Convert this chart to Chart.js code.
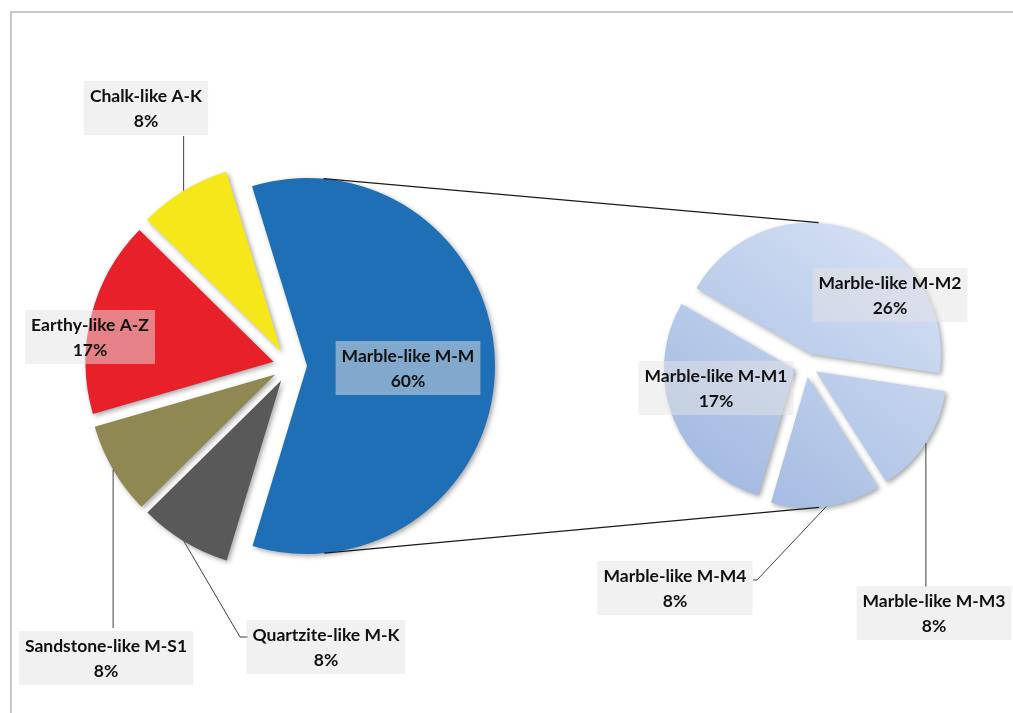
<!DOCTYPE html>
<html>
<head>
<meta charset="utf-8">
<script src="https://cdn.jsdelivr.net/npm/chart.js@4.4.1/dist/chart.umd.min.js"></script>
<style>
  body { margin: 0; background: #fff; }
  #wrap { position: relative; width: 1013px; height: 713px; overflow: hidden; }
  #frame { position: absolute; left: 10px; top: 11px; width: 1100px; height: 800px;
           border-left: 2px solid #c8c8c8; border-top: 2px solid #c8c8c8; }
  canvas { position: absolute; left: 0; top: 0; }
</style>
</head>
<body>
<div id="wrap">
  <div id="frame"></div>
  <canvas id="mainPie" width="1013" height="713"></canvas>
  <canvas id="subPie" width="1013" height="713"></canvas>
</div>
<script>
// data
var mainLabels = ['Marble-like M-M', 'Quartzite-like M-K', 'Sandstone-like M-S1', 'Earthy-like A-Z', 'Chalk-like A-K'];
var mainValues = [60, 8, 8, 17, 8];
var subLabels = ['Marble-like M-M2', 'Marble-like M-M3', 'Marble-like M-M4', 'Marble-like M-M1'];
var subValues = [26, 8, 8, 17];

// styles
var mainColors = ['#1f6fb7', '#595959', '#8f8852', '#e8202a', '#f5e71a'];

// where the callout boxes sit (box centre), and optional leader ends
var mainLabelPos = [
  {x: 408, y: 368},
  {x: 326, y: 647, via: [240, 637], to: [248, 637]},
  {x: 106, y: 658, to: [null, 628]},
  {x: 90, y: 337},
  {x: 146, y: 108, to: [null, 136]}
];
var subLabelPos = [
  {x: 890, y: 295},
  {x: 934, y: 613, to: [null, 587]},
  {x: 675, y: 588, via: [757, 580], to: [753, 580]},
  {x: 716, y: 388}
];

// push every slice outward along its middle angle
var explodePlugin = {
  id: 'explode',
  afterDatasetsUpdate: function (chart, args, opts) {
    chart.getDatasetMeta(0).data.forEach(function (arc) {
      var mid = (arc.startAngle + arc.endAngle) / 2;
      arc.x += Math.cos(mid) * opts.distance;
      arc.y += Math.sin(mid) * opts.distance;
    });
  }
};

var shadowPlugin = {
  id: 'sliceShadow',
  beforeDatasetDraw: function (chart) {
    var ctx = chart.ctx;
    ctx.save();
    ctx.shadowColor = 'rgba(0,0,0,0.35)';
    ctx.shadowBlur = 5;
    ctx.shadowOffsetX = 2;
    ctx.shadowOffsetY = 2;
  },
  afterDatasetDraw: function (chart) {
    chart.ctx.restore();
  }
};

var calloutPlugin = {
  id: 'callouts',
  afterDatasetsDraw: function (chart, args, opts) {
    var ctx = chart.ctx;
    var arcs = chart.getDatasetMeta(0).data;
    var values = chart.data.datasets[0].data;
    ctx.save();
    ctx.font = 'bold 17.5px Lato, sans-serif';
    arcs.forEach(function (arc, i) {
      var p = opts.pos[i];
      if (p.to) {
        var mid = (arc.startAngle + arc.endAngle) / 2;
        var sx = arc.x + Math.cos(mid) * arc.outerRadius;
        var sy = arc.y + Math.sin(mid) * arc.outerRadius;
        ctx.beginPath();
        ctx.moveTo(sx, sy);
        if (p.via) ctx.lineTo(p.via[0], p.via[1]);
        ctx.lineTo(p.to[0] === null ? sx : p.to[0], p.to[1]);
        ctx.strokeStyle = '#404040';
        ctx.lineWidth = 1;
        ctx.stroke();
      }
      var line1 = chart.data.labels[i];
      var line2 = values[i] + '%';
      var w = Math.max(ctx.measureText(line1).width, ctx.measureText(line2).width) + 12;
      var h = 54;
      ctx.fillStyle = 'rgba(228,228,228,0.5)';
      ctx.fillRect(p.x - w / 2, p.y - h / 2, w, h);
      ctx.fillStyle = '#111';
      ctx.textAlign = 'center';
      ctx.textBaseline = 'middle';
      ctx.fillText(line1, p.x, p.y - 12);
      ctx.fillText(line2, p.x, p.y + 13);
    });
    ctx.restore();
  }
};

var mainChart = new Chart(document.getElementById('mainPie'), {
  type: 'pie',
  data: {
    labels: mainLabels,
    datasets: [{
      data: mainValues,
      backgroundColor: mainColors,
      borderWidth: 0
    }]
  },
  options: {
    responsive: false,
    animation: false,
    events: [],
    rotation: -17,
    radius: 188,
    layout: { padding: { left: 0, right: 433, top: 19, bottom: 0 } },
    plugins: {
      legend: { display: false },
      tooltip: { enabled: false },
      explode: { distance: 17 },
      callouts: { pos: mainLabelPos }
    }
  },
  plugins: [explodePlugin, shadowPlugin, calloutPlugin]
});

// tangent lines from the big slice to the second pie
var connectorPlugin = {
  id: 'connectors',
  afterDatasetsDraw: function (chart, args, opts) {
    var big = mainChart.getDatasetMeta(0).data[0];
    var a = chart.chartArea;
    var cx2 = (a.left + a.right) / 2;
    var cy2 = (a.top + a.bottom) / 2;
    var r2 = chart.getDatasetMeta(0).data[0].outerRadius + opts.gap;
    var r1 = big.outerRadius;
    var dx = cx2 - big.x, dy = cy2 - big.y;
    var d = Math.sqrt(dx * dx + dy * dy);
    var phi = Math.atan2(dy, dx);
    var beta = Math.acos((r1 - r2) / d);
    var ctx = chart.ctx;
    ctx.save();
    ctx.strokeStyle = '#1a1a1a';
    ctx.lineWidth = 1.3;
    ctx.beginPath();
    [-1, 1].forEach(function (s) {
      var t = phi + s * beta;
      ctx.moveTo(big.x + r1 * Math.cos(t), big.y + r1 * Math.sin(t));
      ctx.lineTo(cx2 + r2 * Math.cos(t), cy2 + r2 * Math.sin(t));
    });
    ctx.stroke();
    ctx.restore();
  }
};

var subChart = new Chart(document.getElementById('subPie'), {
  type: 'pie',
  data: {
    labels: subLabels,
    datasets: [{
      data: subValues,
      backgroundColor: function (c) {
        var a = c.chart.chartArea;
        if (!a) return '#b4c7e7';
        var cx = (a.left + a.right) / 2, cy = (a.top + a.bottom) / 2;
        var g = c.chart.ctx.createLinearGradient(cx + 90, cy - 120, cx - 90, cy + 120);
        g.addColorStop(0, '#d3dff3');
        g.addColorStop(1, '#a3bae2');
        return g;
      },
      borderWidth: 0
    }]
  },
  options: {
    responsive: false,
    animation: false,
    events: [],
    rotation: -60,
    radius: 131,
    layout: { padding: { left: 599, right: 0, top: 17, bottom: 0 } },
    plugins: {
      legend: { display: false },
      tooltip: { enabled: false },
      explode: { distance: 12 },
      callouts: { pos: subLabelPos },
      connectors: { gap: 12 }
    }
  },
  plugins: [explodePlugin, shadowPlugin, connectorPlugin, calloutPlugin]
});
</script>
</body>
</html>
